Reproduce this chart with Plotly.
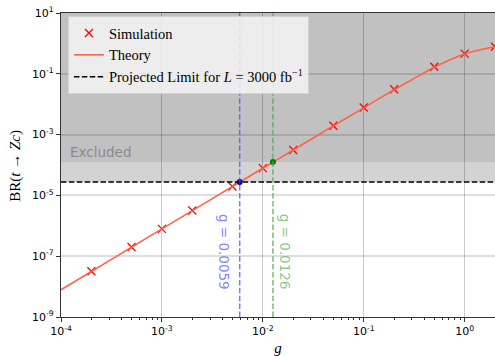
import math
import plotly.graph_objects as go

# ---- data ----
sim_g = [2e-4, 5e-4, 1e-3, 2e-3, 5e-3, 1e-2, 2e-2, 5e-2, 0.1, 0.2, 0.5, 1.0, 2.0]
sim_br = [3.2e-8, 2.0e-7, 7.9e-7, 3.2e-6, 1.95e-5, 7.9e-5, 3.1e-4, 1.95e-3, 7.8e-3, 0.031, 0.17, 0.46, 0.78]

theory_g = [1e-4, 2e-4, 5e-4, 1e-3, 2e-3, 5e-3, 1e-2, 2e-2, 5e-2, 0.1, 0.2, 0.3, 0.5, 0.7, 1.0, 1.5, 2.0]
theory_br = [7.9e-9, 3.15e-8, 1.97e-7, 7.9e-7, 3.15e-6, 1.96e-5, 7.8e-5, 3.1e-4, 1.93e-3, 7.6e-3,
             0.030, 0.064, 0.165, 0.28, 0.45, 0.64, 0.77]

projected_limit = 2.75e-5
current_limit = 1.25e-4
g_projected = 0.0059
g_current = 0.0126

x_range = [1e-4, 2.0]
y_range = [1e-9, 1e1]
x_tickvals = [1e-4, 1e-3, 1e-2, 1e-1, 1e0]
x_ticktext = ["10<sup>-4</sup>", "10<sup>-3</sup>", "10<sup>-2</sup>", "10<sup>-1</sup>", "10<sup>0</sup>"]
y_tickvals = [1e-9, 1e-7, 1e-5, 1e-3, 1e-1, 1e1]
y_ticktext = ["10<sup>-9</sup>", "10<sup>-7</sup>", "10<sup>-5</sup>", "10<sup>-3</sup>", "10<sup>-1</sup>", "10<sup>1</sup>"]

lx = [math.log10(v) for v in x_range]
ly = [math.log10(v) for v in y_range]

# minor tick positions (2..9 within each decade, inside the range)
x_minor = [m * d for d in x_tickvals for m in range(2, 10) if m * d <= x_range[1]]

dash_pat = "5.5px,2.4px"

fig = go.Figure()

fig.add_trace(go.Scatter(
    x=sim_g, y=sim_br, mode="markers", name="Simulation",
    marker=dict(symbol="x-thin", size=8, color="red", line=dict(color="red", width=1.3)),
))
fig.add_trace(go.Scatter(
    x=theory_g, y=theory_br, mode="lines", name="Theory",
    line=dict(color="#ff6347", width=1.6, shape="spline", smoothing=0.6),
))
fig.add_trace(go.Scatter(
    x=[None], y=[None], mode="lines",
    name="Projected Limit for <i>L</i> = 3000 fb<sup>−1</sup>",
    line=dict(color="black", width=1.5, dash=dash_pat),
))
fig.add_trace(go.Scatter(
    x=[g_projected], y=[projected_limit], mode="markers", showlegend=False,
    marker=dict(size=6, color="#0000cc"),
))
fig.add_trace(go.Scatter(
    x=[g_current], y=[current_limit], mode="markers", showlegend=False,
    marker=dict(size=6, color="#008000"),
))

shapes = [
    dict(type="rect", xref="paper", yref="y", x0=0, x1=1, y0=projected_limit, y1=y_range[1],
         fillcolor="#d3d3d3", line=dict(width=0), layer="below"),
    dict(type="rect", xref="paper", yref="y", x0=0, x1=1, y0=current_limit, y1=y_range[1],
         fillcolor="#c1c1c1", line=dict(width=0), layer="below"),
    dict(type="line", xref="paper", yref="y", x0=0, x1=1, y0=projected_limit, y1=projected_limit,
         line=dict(color="black", width=1.5, dash=dash_pat), layer="above"),
    dict(type="line", xref="x", yref="paper", x0=g_projected, x1=g_projected, y0=0, y1=1,
         line=dict(color="rgba(80,80,240,0.75)", width=1.5, dash=dash_pat), layer="above"),
    dict(type="line", xref="x", yref="paper", x0=g_current, x1=g_current, y0=0, y1=1,
         line=dict(color="rgba(90,170,90,0.8)", width=1.5, dash=dash_pat), layer="above"),
]

annotations = [
    dict(text="Excluded", xref="paper", yref="y", x=0.016, y=math.log10(1.3e-4), xanchor="left", yanchor="bottom",
         showarrow=False, font=dict(family="DejaVu Sans", size=13.5, color="#8a8a8a")),
    dict(text="g = 0.0059", xref="x", yref="y", x=math.log10(g_projected), y=-6.85, xshift=-15,
         textangle=90, showarrow=False, xanchor="center", yanchor="middle",
         font=dict(family="DejaVu Sans", size=13.5, color="rgba(110,110,255,0.85)")),
    dict(text="g = 0.0126", xref="x", yref="y", x=math.log10(g_current), y=-6.85, xshift=12,
         textangle=90, showarrow=False, xanchor="center", yanchor="middle",
         font=dict(family="DejaVu Sans", size=13.5, color="rgba(120,190,120,0.85)")),
    dict(text="BR(<i>t</i> → <i>Zc</i>)", xref="paper", yref="paper", x=-0.104, y=0.497,
         textangle=-90, showarrow=False, xanchor="center", yanchor="middle",
         font=dict(family="Liberation Serif", size=15, color="black")),
]

fig.update_layout(
    width=495, height=356,
    margin=dict(l=61, r=0, t=13, b=39),
    paper_bgcolor="white", plot_bgcolor="white",
    shapes=shapes, annotations=annotations,
    showlegend=True,
    legend=dict(x=0.016, y=0.99, xanchor="left", yanchor="top",
                bgcolor="rgba(244,244,244,0.85)", bordercolor="rgba(210,210,210,0.9)", borderwidth=1,
                font=dict(family="Liberation Serif", size=14.5, color="black"),
                tracegroupgap=0, itemwidth=30),
    xaxis=dict(type="log", range=lx, tickmode="array", tickvals=x_tickvals, ticktext=x_ticktext,
               ticks="outside", ticklen=4, tickwidth=1, tickcolor="#333",
               showline=True, linecolor="#333", linewidth=1.2, mirror=True,
               showgrid=True, gridcolor="rgba(0,0,0,0.2)", gridwidth=1,
               minor=dict(tickmode="array", tickvals=x_minor, ticks="outside", ticklen=2,
                          tickwidth=0.8, tickcolor="#333", showgrid=False),
               tickfont=dict(family="DejaVu Sans", size=11, color="black"),
               title=dict(text="<i>g</i>", font=dict(family="Liberation Serif", size=15, color="black"), standoff=8),
               zeroline=False),
    yaxis=dict(type="log", range=ly, tickmode="array", tickvals=y_tickvals, ticktext=y_ticktext,
               ticks="outside", ticklen=4, tickwidth=1, tickcolor="#333",
               showline=True, linecolor="#333", linewidth=1.2, mirror=True,
               showgrid=True, gridcolor="rgba(0,0,0,0.13)", gridwidth=1.6,
               tickfont=dict(family="DejaVu Sans", size=11, color="black"),
               zeroline=False),
)

fig.write_html("out.html")
